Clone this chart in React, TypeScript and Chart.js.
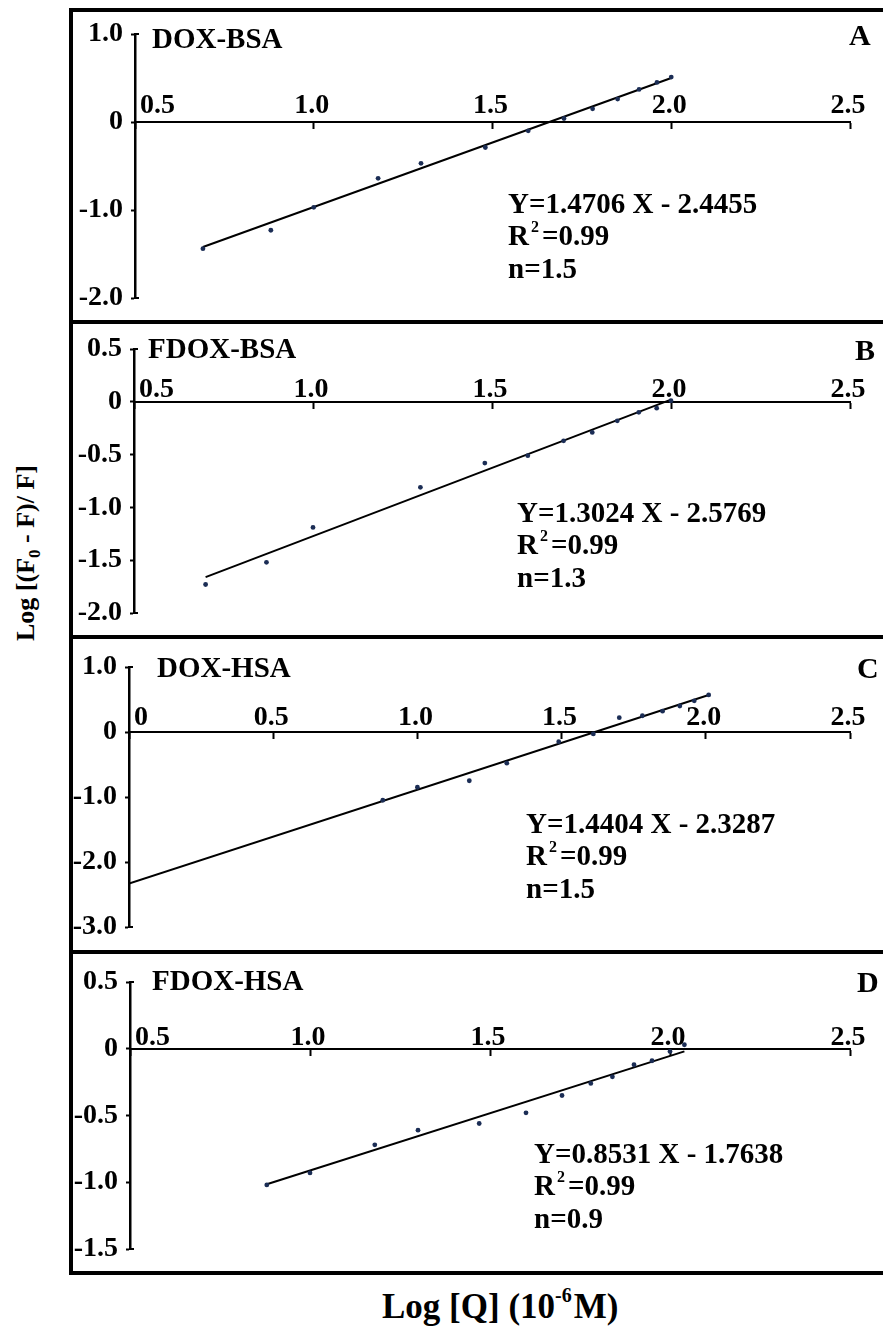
import React, { useEffect, useRef } from 'react';
import { Chart, registerables } from 'chart.js';

Chart.register(...registerables);

// ---------- data ----------
// Panel A: DOX-BSA
const xA = [0.69, 0.88, 1.0, 1.18, 1.3, 1.48, 1.6, 1.7, 1.78, 1.85, 1.91, 1.96, 2.0];
const yA = [-1.44, -1.23, -0.97, -0.64, -0.47, -0.29, -0.1, 0.04, 0.15, 0.26, 0.37, 0.45, 0.51];
const fitXA = [0.69, 2.0];
const fitYA = [-1.42, 0.5];

// Panel B: FDOX-BSA
const xB = [0.7, 0.87, 1.0, 1.3, 1.48, 1.6, 1.7, 1.78, 1.85, 1.91, 1.96, 2.0];
const yB = [-1.73, -1.52, -1.19, -0.81, -0.58, -0.51, -0.37, -0.29, -0.18, -0.1, -0.06, 0.01];
const fitXB = [0.7, 2.0];
const fitYB = [-1.66, 0.02];

// Panel C: DOX-HSA
const xC = [0.88, 1.0, 1.18, 1.31, 1.49, 1.61, 1.7, 1.78, 1.85, 1.91, 1.96, 2.01];
const yC = [-1.05, -0.85, -0.75, -0.48, -0.15, -0.03, 0.22, 0.25, 0.32, 0.4, 0.48, 0.57];
const fitXC = [0.0, 2.01];
const fitYC = [-2.33, 0.57];

// Panel D: FDOX-HSA
const xD = [0.88, 1.0, 1.18, 1.3, 1.47, 1.6, 1.7, 1.78, 1.84, 1.9, 1.95, 2.0, 2.04];
const yD = [-1.02, -0.93, -0.72, -0.61, -0.56, -0.48, -0.35, -0.26, -0.21, -0.12, -0.09, -0.02, 0.03];
const fitXD = [0.88, 2.04];
const fitYD = [-1.015, -0.02];

// tick values
const xTicksA = [0.5, 1.0, 1.5, 2.0, 2.5];
const xTicksB = [0.5, 1.0, 1.5, 2.0, 2.5];
const xTicksC = [0, 0.5, 1.0, 1.5, 2.0, 2.5];
const xTicksD = [0.5, 1.0, 1.5, 2.0, 2.5];
const yTicksA = [-2, -1, 0, 1];
const yTicksB = [-2, -1.5, -1, -0.5, 0, 0.5];
const yTicksC = [-3, -2, -1, 0, 1];
const yTicksD = [-1.5, -1, -0.5, 0, 0.5];

// texts
const panelTitles = ['DOX-BSA', 'FDOX-BSA', 'DOX-HSA', 'FDOX-HSA'];
const panelLetters = ['A', 'B', 'C', 'D'];
const equations = ['Y=1.4706 X - 2.4455', 'Y=1.3024 X - 2.5769', 'Y=1.4404 X - 2.3287', 'Y=0.8531 X - 1.7638'];
const r2Values = ['0.99', '0.99', '0.99', '0.99'];
const nValues = ['1.5', '1.3', '1.5', '0.9'];

// ---------- layout (positions / sizes, kept apart from data) ----------
const FONT = "'Liberation Serif', 'Times New Roman', serif";
const CANVAS_LEFT = 73;
const CANVAS_W = 810;
const TICK_SIZE = 28;

const panelLayouts = [
  { top: 12, height: 308, yW: 62, padTop: 21, padBottom: 20, padRight: 33, labelGap: 9, title: [79, 36], letter: [776, 33], eq: [435, 201] },
  { top: 324, height: 311, yW: 61, padTop: 25, padBottom: 20, padRight: 33, labelGap: 5, title: [75, 34], letter: [782, 36], eq: [444, 198] },
  { top: 639, height: 311, yW: 56, padTop: 28, padBottom: 23, padRight: 33, labelGap: 7, title: [84, 38], letter: [784, 39], eq: [453, 194] },
  { top: 954, height: 317, yW: 57, padTop: 28, padBottom: 15, padRight: 33, labelGap: 4, title: [79, 36], letter: [784, 38], eq: [461, 209] },
];
const eqLineOffsets = [0, 32, 65];

const panelSeries = [
  { xs: xA, ys: yA, fx: fitXA, fy: fitYA, xt: xTicksA, yt: yTicksA },
  { xs: xB, ys: yB, fx: fitXB, fy: fitYB, xt: xTicksB, yt: yTicksB },
  { xs: xC, ys: yC, fx: fitXC, fy: fitYC, xt: xTicksC, yt: yTicksC },
  { xs: xD, ys: yD, fx: fitXD, fy: fitYD, xt: xTicksD, yt: yTicksD },
];

const fmt = (v: number) => (v === 0 ? '0' : v.toFixed(1));

function makeDecor(idx: number) {
  const L = panelLayouts[idx];
  const S = panelSeries[idx];
  return {
    id: 'decor' + idx,
    afterDraw(chart: any) {
      const { ctx } = chart;
      const xs = chart.scales.x;
      const ys = chart.scales.y;
      ctx.save();
      ctx.fillStyle = '#000';
      ctx.strokeStyle = '#000';
      ctx.textBaseline = 'alphabetic';

      // x tick labels, above the axis line
      const y0 = ys.getPixelForValue(0);
      ctx.font = `bold ${TICK_SIZE}px ${FONT}`;
      S.xt.forEach((v: number, i: number) => {
        const px = xs.getPixelForValue(v);
        if (i === 0) {
          ctx.textAlign = 'left';
          ctx.fillText(fmt(v), px + 5, y0 - L.labelGap);
        } else {
          ctx.textAlign = 'center';
          ctx.fillText(fmt(v), px - 2, y0 - L.labelGap);
        }
      });

      // small end caps of the y axis
      const ax = chart.chartArea.left;
      ctx.lineWidth = 2;
      [ys.getPixelForValue(ys.max), ys.getPixelForValue(ys.min)].forEach((py: number) => {
        ctx.beginPath();
        ctx.moveTo(ax, py);
        ctx.lineTo(ax + 4, py);
        ctx.stroke();
      });

      // panel title
      ctx.textAlign = 'left';
      ctx.font = `bold 29px ${FONT}`;
      ctx.fillText(panelTitles[idx], L.title[0], L.title[1]);

      // panel letter
      ctx.font = `bold 30px ${FONT}`;
      ctx.fillText(panelLetters[idx], L.letter[0], L.letter[1]);

      // equation block
      const ex = L.eq[0];
      ctx.font = `bold 29px ${FONT}`;
      ctx.fillText(equations[idx], ex, L.eq[1] + eqLineOffsets[0]);
      const by = L.eq[1] + eqLineOffsets[1];
      ctx.fillText('R', ex, by);
      let cx = ex + ctx.measureText('R').width + 2;
      ctx.font = `bold 16px ${FONT}`;
      ctx.fillText('2', cx, by - 13);
      cx += ctx.measureText('2').width + 3;
      ctx.font = `bold 29px ${FONT}`;
      ctx.fillText('=' + r2Values[idx], cx, by);
      ctx.fillText('n=' + nValues[idx], ex, L.eq[1] + eqLineOffsets[2]);
      ctx.restore();
    },
  };
}

function Panel({ idx }: { idx: number }) {
  const ref = useRef<HTMLCanvasElement | null>(null);
  const L = panelLayouts[idx];
  const S = panelSeries[idx];
  useEffect(() => {
    if (!ref.current) return;
    const tickFont = { family: FONT, weight: 'bold' as const, size: TICK_SIZE, lineHeight: 1 };
    const chart = new Chart(ref.current, {
      type: 'scatter',
      data: {
        datasets: [
          {
            data: S.xs.map((v: number, i: number) => ({ x: v, y: S.ys[i] })),
            pointRadius: 2.4,
            pointBackgroundColor: '#1b2d55',
            pointBorderWidth: 0,
            showLine: false,
          },
          {
            data: S.fx.map((v: number, i: number) => ({ x: v, y: S.fy[i] })),
            showLine: true,
            borderColor: '#000',
            borderWidth: 2,
            pointRadius: 0,
            fill: false,
          },
        ],
      },
      options: {
        animation: false,
        responsive: false,
        devicePixelRatio: 1,
        events: [],
        layout: { padding: { left: 0, top: L.padTop, bottom: L.padBottom, right: L.padRight } },
        plugins: { legend: { display: false }, tooltip: { enabled: false } },
        scales: {
          x: {
            type: 'linear',
            position: { y: 0 } as any,
            min: S.xt[0],
            max: S.xt[S.xt.length - 1],
            afterBuildTicks: (s: any) => {
              s.ticks = S.xt.map((v: number) => ({ value: v }));
            },
            ticks: { display: false },
            grid: { drawOnChartArea: false, drawTicks: true, tickLength: 6, tickWidth: 2, tickColor: '#000' },
            border: { display: true, color: '#000', width: 2 },
          },
          y: {
            type: 'linear',
            position: 'left',
            min: S.yt[0],
            max: S.yt[S.yt.length - 1],
            afterBuildTicks: (s: any) => {
              s.ticks = S.yt.map((v: number) => ({ value: v }));
            },
            afterFit: (s: any) => {
              s.width = L.yW;
            },
            ticks: {
              color: '#000',
              font: tickFont,
              padding: 8,
              autoSkip: false,
              callback: (v: any) => fmt(Number(v)),
            },
            grid: { drawOnChartArea: false, drawTicks: true, tickLength: 4, tickWidth: 2, tickColor: '#000' },
            border: { display: true, color: '#000', width: 2.5 },
          },
        },
      } as any,
      plugins: [makeDecor(idx)],
    });
    if ((document as any).fonts && (document as any).fonts.load) {
      (document as any).fonts.load(`bold 26px ${FONT}`).then(() => chart.update()).catch(() => {});
    }
    return () => chart.destroy();
  }, []);
  return (
    <canvas
      ref={ref}
      width={CANVAS_W}
      height={L.height}
      style={{ position: 'absolute', left: CANVAS_LEFT, top: L.top, width: CANVAS_W, height: L.height }}
    />
  );
}

const hLines = [8, 320, 635, 950, 1271];

export default function App() {
  return (
    <div
      style={{
        position: 'absolute',
        left: 0,
        top: 0,
        width: 883,
        height: 1328,
        overflow: 'hidden',
        background: '#fff',
        fontFamily: FONT,
        fontWeight: 'bold',
        color: '#000',
      }}
    >
      {hLines.map((y, i) => (
        <div key={i} style={{ position: 'absolute', left: 69, top: y, width: 830, height: 4, background: '#000' }} />
      ))}
      <div style={{ position: 'absolute', left: 69, top: 8, width: 4, height: 1267, background: '#000' }} />
      {panelLayouts.map((_, i) => (
        <Panel key={i} idx={i} />
      ))}
      <div
        style={{
          position: 'absolute',
          left: 26 - 150,
          top: 553 - 13,
          width: 300,
          height: 26,
          lineHeight: '26px',
          fontSize: 26,
          textAlign: 'center',
          whiteSpace: 'nowrap',
          transform: 'rotate(-90deg)',
        }}
      >
        Log [(F<span style={{ fontSize: 17, position: 'relative', top: 6 }}>0</span> - F)/ F]
      </div>
      <div
        style={{
          position: 'absolute',
          left: 382,
          top: 1289,
          height: 35,
          lineHeight: '35px',
          fontSize: 35,
          whiteSpace: 'nowrap',
        }}
      >
        Log [Q] (10<span style={{ fontSize: 20, position: 'relative', top: -16, marginRight: 2 }}>-6</span>M)
      </div>
    </div>
  );
}
